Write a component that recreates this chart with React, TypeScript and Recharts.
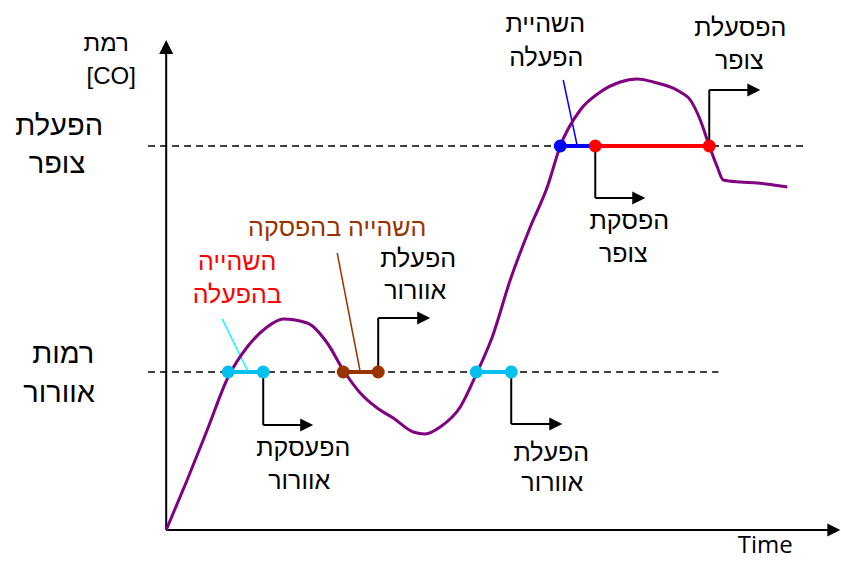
import React from 'react';
import { ComposedChart, Line, XAxis, YAxis, ReferenceLine, ReferenceDot } from 'recharts';

// thresholds (CO level units)
const FAN_LEVEL = 39.5;
const BUZZER_LEVEL = 96;

// CO level over time
const coCurve = [
  { t: 0, v: 0 }, { t: 3.13, v: 12.5 }, { t: 6.12, v: 25 }, { t: 9.25, v: 38.25 },
  { t: 12.09, v: 45.75 }, { t: 15.07, v: 50.75 }, { t: 17.46, v: 52.75 }, { t: 21.04, v: 51.75 },
  { t: 24.03, v: 46.75 }, { t: 26.42, v: 40 }, { t: 28.96, v: 34.25 }, { t: 31.49, v: 30.5 },
  { t: 33.88, v: 28 }, { t: 36.87, v: 24.5 }, { t: 38.66, v: 24 }, { t: 40.9, v: 25.75 },
  { t: 43.88, v: 30.75 }, { t: 46.42, v: 39.5 }, { t: 48.66, v: 48.25 }, { t: 51.34, v: 62.5 },
  { t: 54.33, v: 75.75 }, { t: 56.87, v: 85.75 }, { t: 58.81, v: 96 }, { t: 61.79, v: 105 },
  { t: 64.78, v: 109.5 }, { t: 67.76, v: 112 }, { t: 70.3, v: 112.75 }, { t: 72.69, v: 112 },
  { t: 76.72, v: 109.5 }, { t: 78.21, v: 107.5 }, { t: 79.7, v: 102.5 }, { t: 80.9, v: 96.75 },
  { t: 82.24, v: 90.75 }, { t: 83.13, v: 87.5 }, { t: 85.67, v: 87 }, { t: 88.21, v: 86.75 },
  { t: 90.6, v: 86.25 }, { t: 92.69, v: 85.75 },
];

// delay intervals on the threshold lines
const fanOnDelay = [{ t: 9.25, v: FAN_LEVEL }, { t: 14.48, v: FAN_LEVEL }];
const fanOffDelay = [{ t: 26.42, v: FAN_LEVEL }, { t: 31.64, v: FAN_LEVEL }];
const fanOnDelay2 = [{ t: 46.27, v: FAN_LEVEL }, { t: 51.49, v: FAN_LEVEL }];
const buzzerOnDelay = [{ t: 58.81, v: BUZZER_LEVEL }, { t: 64.03, v: BUZZER_LEVEL }];
const buzzerOn = [{ t: 64.03, v: BUZZER_LEVEL }, { t: 81.04, v: BUZZER_LEVEL }];

// threshold dashed lines end times
const fanLineEnd = 82.39;
const buzzerLineEnd = 95.67;

// event arrows: start point, bend level, arrow tip time
const eventArrows = [
  { t: 14.48, from: FAN_LEVEL, to: 26.25, tip: 21.94 },
  { t: 31.64, from: FAN_LEVEL, to: 53, tip: 39.4 },
  { t: 51.49, from: FAN_LEVEL, to: 26.5, tip: 59.1 },
  { t: 64.03, from: BUZZER_LEVEL, to: 83, tip: 71.49 },
  { t: 81.04, from: BUZZER_LEVEL, to: 110, tip: 88.66 },
];

// leader lines from the delay captions
const leaders = [
  { x1: 8.36, y1: 52.75, x2: 12.24, y2: FAN_LEVEL, color: '#00ffff' },
  { x1: 25.52, y1: 69.25, x2: 28.96, y2: FAN_LEVEL, color: '#993300' },
  { x1: 59.25, y1: 112.5, x2: 61.34, y2: BUZZER_LEVEL, color: '#0000ff' },
];

const HEB = '"Liberation Sans", "Open Sans", sans-serif';
const LAT = '"Open Sans", sans-serif';

// captions: anchor (t, v) of first line, each line may shift in t
const labels = [
  { t: -8.96, v: 122, size: 24, lh: 33, color: '#000', font: HEB, lines: [{ text: 'רמת', t: -8.96 }, { text: '[CO]', t: -8.21 }] },
  { t: -15.97, v: 101.25, size: 29, lh: 38, color: '#000', font: HEB, lines: [{ text: 'הפעלת', t: -15.97 }, { text: 'צופר', t: -16.3 }] },
  { t: -15.37, v: 44.25, size: 29, lh: 39, color: '#000', font: HEB, lines: [{ text: 'רמות', t: -15.37 }, { text: 'אוורור', t: -15.97 }] },
  { t: 25.52, v: 75.75, size: 25, lh: 33, color: '#993300', font: HEB, lines: [{ text: 'השהייה בהפסקה', t: 25.52 }] },
  { t: 10.6, v: 67.25, size: 25, lh: 33, color: '#ff0000', font: HEB, lines: [{ text: 'השהייה', t: 10.6 }, { text: 'בהפעלה', t: 10.6 }] },
  { t: 37.6, v: 68, size: 25, lh: 32, color: '#000', font: HEB, lines: [{ text: 'הפעלת', t: 37.6 }, { text: 'אוורור', t: 37.16 }] },
  { t: 20.45, v: 20.75, size: 25, lh: 33, color: '#000', font: HEB, lines: [{ text: 'הפעסקת', t: 20.45 }, { text: 'אוורור', t: 19.85 }] },
  { t: 57.46, v: 19.5, size: 25, lh: 30, color: '#000', font: HEB, lines: [{ text: 'הפעלת', t: 57.46 }, { text: 'אוורור', t: 57.61 }] },
  { t: 56.57, v: 126.75, size: 25, lh: 34, color: '#000', font: HEB, lines: [{ text: 'השהיית', t: 56.57 }, { text: 'הפעלה', t: 56.72 }] },
  { t: 85.67, v: 125.75, size: 25, lh: 33, color: '#000', font: HEB, lines: [{ text: 'הפסעלת', t: 85.67 }, { text: 'צופר', t: 85.52 }] },
  { t: 69.1, v: 77.5, size: 25, lh: 33, color: '#000', font: HEB, lines: [{ text: 'הפסקת', t: 69.1 }, { text: 'צופר', t: 68.21 }] },
  { t: 89.4, v: -3.6, size: 24, lh: 24, color: '#000', font: LAT, lines: [{ text: 'Time', t: 89.4 }] },
];

const X_DOMAIN = [-24.8, 100.7];
const Y_DOMAIN = [-7.75, 132.5];
const W = 841;
const H = 561;
const PX_PER_T = W / (X_DOMAIN[1] - X_DOMAIN[0]);

const X_AXIS_END = 100.6;
const Y_AXIS_END = 122.5;

const rightHead = (props: any) => {
  const { cx, cy } = props;
  return <polygon points={`${cx},${cy} ${cx - 13},${cy - 6.5} ${cx - 13},${cy + 6.5}`} fill="#000" />;
};

const upHead = (props: any) => {
  const { cx, cy } = props;
  return <polygon points={`${cx},${cy} ${cx - 7},${cy + 14} ${cx + 7},${cy + 14}`} fill="#000" />;
};

const textShape = (l: any) => (props: any) => (
  <text textAnchor="middle" fontFamily={l.font} fontSize={l.size} fill={l.color}>
    {l.lines.map((ln: any, i: number) => (
      <tspan key={i} x={props.cx + (ln.t - l.t) * PX_PER_T} y={props.cy + i * l.lh + 0.36 * l.size}>
        {ln.text}
      </tspan>
    ))}
  </text>
);

const dotFor = (color: string, onlyFirst = false) => (props: any) => {
  const { cx, cy, index } = props;
  if (onlyFirst && index > 0) return <g key={index} />;
  return <circle key={index} cx={cx} cy={cy} r={6.5} fill={color} stroke="none" />;
};

export default function App() {
  return (
    <div style={{ position: 'absolute', left: 0, top: 0, width: W, height: H, background: '#fff' }}>
      <ComposedChart width={W} height={H} margin={{ top: 0, right: 0, bottom: 0, left: 0 }}>
        <XAxis type="number" dataKey="t" domain={X_DOMAIN} allowDataOverflow hide />
        <YAxis type="number" dataKey="v" domain={Y_DOMAIN} allowDataOverflow hide />

        {/* axes */}
        <ReferenceLine segment={[{ x: 0, y: 0 }, { x: 0, y: Y_AXIS_END - 2 }]} stroke="#000" strokeWidth={2} />
        <ReferenceLine segment={[{ x: 0, y: 0 }, { x: X_AXIS_END - 1, y: 0 }]} stroke="#000" strokeWidth={2} />
        <ReferenceDot x={0} y={Y_AXIS_END} r={0} shape={upHead} />
        <ReferenceDot x={X_AXIS_END} y={0} r={0} shape={rightHead} />

        {/* threshold lines */}
        <ReferenceLine segment={[{ x: -2.7, y: FAN_LEVEL }, { x: fanLineEnd, y: FAN_LEVEL }]} stroke="#000" strokeWidth={1.5} strokeDasharray="7 5" />
        <ReferenceLine segment={[{ x: -2.7, y: BUZZER_LEVEL }, { x: buzzerLineEnd, y: BUZZER_LEVEL }]} stroke="#000" strokeWidth={1.5} strokeDasharray="7 5" />

        {/* leaders */}
        {leaders.map((l, i) => (
          <ReferenceLine key={`ld${i}`} segment={[{ x: l.x1, y: l.y1 }, { x: l.x2, y: l.y2 }]} stroke={l.color} strokeWidth={1.5} />
        ))}

        <Line data={coCurve} dataKey="v" type="monotone" stroke="#800080" strokeWidth={3} dot={false} activeDot={false} isAnimationActive={false} />

        <Line data={fanOnDelay} dataKey="v" stroke="#00c0f0" strokeWidth={4} dot={dotFor('#00c0f0')} activeDot={false} isAnimationActive={false} />
        <Line data={fanOffDelay} dataKey="v" stroke="#993300" strokeWidth={4} dot={dotFor('#993300')} activeDot={false} isAnimationActive={false} />
        <Line data={fanOnDelay2} dataKey="v" stroke="#00c0f0" strokeWidth={4} dot={dotFor('#00c0f0')} activeDot={false} isAnimationActive={false} />
        <Line data={buzzerOnDelay} dataKey="v" stroke="#0000ff" strokeWidth={4} dot={dotFor('#0000ff', true)} activeDot={false} isAnimationActive={false} />
        <Line data={buzzerOn} dataKey="v" stroke="#ff0000" strokeWidth={4} dot={dotFor('#ff0000')} activeDot={false} isAnimationActive={false} />

        {/* event arrows */}
        {eventArrows.map((a, i) => (
          <ReferenceLine key={`av${i}`} segment={[{ x: a.t, y: a.from }, { x: a.t, y: a.to }]} stroke="#000" strokeWidth={2} />
        ))}
        {eventArrows.map((a, i) => (
          <ReferenceLine key={`ah${i}`} segment={[{ x: a.t, y: a.to }, { x: a.tip - 1, y: a.to }]} stroke="#000" strokeWidth={2} />
        ))}
        {eventArrows.map((a, i) => (
          <ReferenceDot key={`ap${i}`} x={a.tip} y={a.to} r={0} shape={rightHead} />
        ))}

        {labels.map((l, i) => (
          <ReferenceDot key={`lb${i}`} x={l.t} y={l.v} r={0} shape={textShape(l)} />
        ))}
      </ComposedChart>
    </div>
  );
}
